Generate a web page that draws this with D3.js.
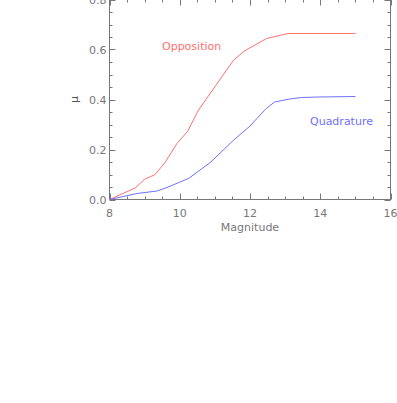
<!DOCTYPE html>
<html><head><meta charset="utf-8">
<script src="https://cdn.jsdelivr.net/npm/d3@7"></script>
<style>body{margin:0;background:#fff}svg{display:block}text{font-family:"DejaVu Sans",sans-serif}</style>
</head><body>
<script>
const oppMag = [8.0, 8.73, 9.0, 9.3, 9.58, 9.92, 10.22, 10.53, 11.53, 11.84, 12.47, 13.09, 15.0];
const oppMu  = [0.0, 0.046, 0.081, 0.10, 0.148, 0.224, 0.272, 0.357, 0.557, 0.594, 0.644, 0.664, 0.664];
const quadMag = [8.0, 8.78, 9.35, 9.58, 10.25, 10.86, 11.53, 12.0, 12.46, 12.7, 13.13, 13.47, 13.94, 15.0];
const quadMu  = [0.0, 0.024, 0.034, 0.045, 0.084, 0.147, 0.237, 0.294, 0.364, 0.39, 0.402, 0.408, 0.410, 0.412];
const xTicks = [8, 10, 12, 14, 16];
const yTicks = [0.0, 0.2, 0.4, 0.6, 0.8];
const xTickLabels = ["8", "10", "12", "14", "16"];
const yTickLabels = ["0.0", "0.2", "0.4", "0.6", "0.8"];
const seriesNames = ["Opposition", "Quadrature"];

const W = 397, H = 403;
const L = 109.5, R = 390.5, T = -0.5, B = 199.5;
const svg = d3.select("body").append("svg").attr("width", W).attr("height", H);
const x = d3.scaleLinear().domain([8, 16]).range([L, R]);
const y = d3.scaleLinear().domain([0, 0.8]).range([B, T]);
const axisCol = "#777";

svg.append("rect").attr("x", L).attr("y", T).attr("width", R - L).attr("height", B - T)
  .attr("fill", "none").attr("stroke", axisCol).attr("stroke-width", 1);

// ticks on all sides
const xMinor = d3.range(8, 16.001, 0.5);
const yMinor = d3.range(0, 0.8001, 0.05);
const g = svg.append("g").attr("stroke", axisCol).attr("stroke-width", 1);
xMinor.forEach(v => {
  const major = Math.abs(v / 2 - Math.round(v / 2)) < 1e-6;
  const len = major ? 6 : 3;
  const px = Math.round(x(v)) + 0.5;
  g.append("line").attr("x1", px).attr("x2", px).attr("y1", B).attr("y2", B - len);
  g.append("line").attr("x1", px).attr("x2", px).attr("y1", T).attr("y2", T + len);
});
yMinor.forEach(v => {
  const major = Math.abs(v / 0.2 - Math.round(v / 0.2)) < 1e-6;
  const len = major ? 6 : 3;
  const py = Math.round(y(v)) + 0.5;
  g.append("line").attr("x1", L).attr("x2", L + len).attr("y1", py).attr("y2", py);
  g.append("line").attr("x1", R).attr("x2", R - len).attr("y1", py).attr("y2", py);
});

// tick labels
xTicks.forEach((v, i) => {
  svg.append("text").attr("x", x(v)).attr("y", B + 17).attr("text-anchor", "middle")
    .attr("font-size", 11).attr("fill", axisCol).text(xTickLabels[i]);
});
yTicks.forEach((v, i) => {
  svg.append("text").attr("x", L - 3).attr("y", y(v) + 4).attr("text-anchor", "end")
    .attr("font-size", 11).attr("fill", axisCol).text(yTickLabels[i]);
});
svg.append("text").attr("x", (L + R) / 2).attr("y", B + 31).attr("text-anchor", "middle")
  .attr("font-size", 11).attr("fill", axisCol).text("Magnitude");
svg.append("text").attr("transform", `translate(78,${y(0.4)}) rotate(-90)`).attr("text-anchor", "middle")
  .attr("font-size", 11).attr("fill", "#555").text("μ");

const line = d3.line().x(d => x(d[0])).y(d => y(d[1]));
const oppData = oppMag.map((m, i) => [m, oppMu[i]]);
const quadData = quadMag.map((m, i) => [m, quadMu[i]]);
svg.append("path").attr("d", line(oppData)).attr("fill", "none").attr("stroke", "#ff7070").attr("stroke-width", 1);
svg.append("path").attr("d", line(quadData)).attr("fill", "none").attr("stroke", "#7070ff").attr("stroke-width", 1);

svg.append("text").attr("x", 162).attr("y", 50).attr("font-size", 11).attr("fill", "#ff7070").text(seriesNames[0]);
svg.append("text").attr("x", 310).attr("y", 125).attr("font-size", 11).attr("fill", "#7070ff").text(seriesNames[1]);
</script>
</body></html>
